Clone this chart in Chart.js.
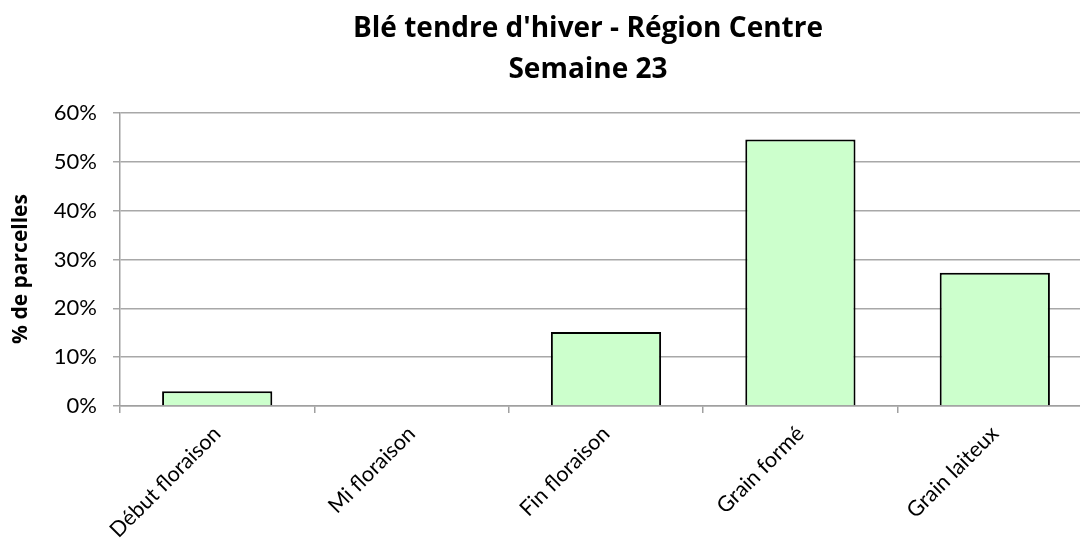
<!DOCTYPE html>
<html>
<head>
<meta charset="utf-8">
<script src="https://cdn.jsdelivr.net/npm/chart.js@4/dist/chart.umd.min.js"></script>
<style>
  html, body { margin: 0; padding: 0; background: #fff; overflow: hidden; }
  #wrap { width: 1100px; height: 540px; }
</style>
</head>
<body>
<div id="wrap"><canvas id="c" width="1100" height="540"></canvas></div>
<script>
const titleLines = ["Blé tendre d'hiver - Région Centre", "Semaine 23"];
const categories = ["Début floraison", "Mi floraison", "Fin floraison", "Grain formé", "Grain laiteux"];
const values = [3.03, 0, 15.15, 54.55, 27.27];
const yTitle = "% de parcelles";
const yMin = 0, yMax = 60, yStep = 10;

const FONT = "Lato, 'Open Sans', 'Liberation Sans', sans-serif";
const TFONT = "'Open Sans', Lato, sans-serif";

const textPlugin = {
  id: 'manualText',
  afterDraw(chart) {
    const ctx = chart.ctx;
    ctx.save();
    ctx.fillStyle = '#000';
    ctx.font = "bold 28px " + TFONT;
    ctx.textAlign = 'center';
    ctx.textBaseline = 'alphabetic';
    ctx.fillText(titleLines[0], 588, 37);
    ctx.fillText(titleLines[1], 588, 78);
    ctx.translate(21, 269);
    ctx.rotate(-Math.PI / 2);
    ctx.font = "bold 21px " + TFONT;
    ctx.textBaseline = 'middle';
    ctx.fillText(yTitle, 0, 0);
    ctx.restore();
  }
};

new Chart(document.getElementById('c'), {
  type: 'bar',
  data: {
    labels: categories,
    datasets: [{
      data: values,
      backgroundColor: '#CCFFCC',
      borderColor: '#000000',
      borderWidth: 2,
      categoryPercentage: 1.0,
      barPercentage: 0.567
    }]
  },
  options: {
    responsive: false,
    animation: false,
    layout: { padding: { top: 113, left: 0, right: 8, bottom: 0 } },
    plugins: {
      legend: { display: false },
      title: { display: false },
      tooltip: { enabled: false }
    },
    scales: {
      x: {
        grid: { display: true, drawOnChartArea: false, drawTicks: true, tickLength: 7, color: '#A0A0A0', lineWidth: 1.5, offset: true },
        border: { color: '#A0A0A0', width: 1.5 },
        ticks: {
          color: '#000',
          font: { family: FONT, size: 21.5 },
          maxRotation: 45, minRotation: 45,
          padding: 8,
          autoSkip: false
        },
        afterFit(scale) { scale.height = 134; }
      },
      y: {
        min: yMin, max: yMax,
        ticks: {
          stepSize: yStep,
          color: '#000',
          font: { family: FONT, size: 22 },
          padding: 16,
          callback: v => v + '%'
        },
        grid: { color: '#A8A8A8', lineWidth: 1.5, tickLength: 7, drawTicks: true },
        border: { color: '#A0A0A0', width: 1.5 },
        afterFit(scale) { scale.width = 120; }
      }
    }
  },
  plugins: [textPlugin]
});
</script>
</body>
</html>
